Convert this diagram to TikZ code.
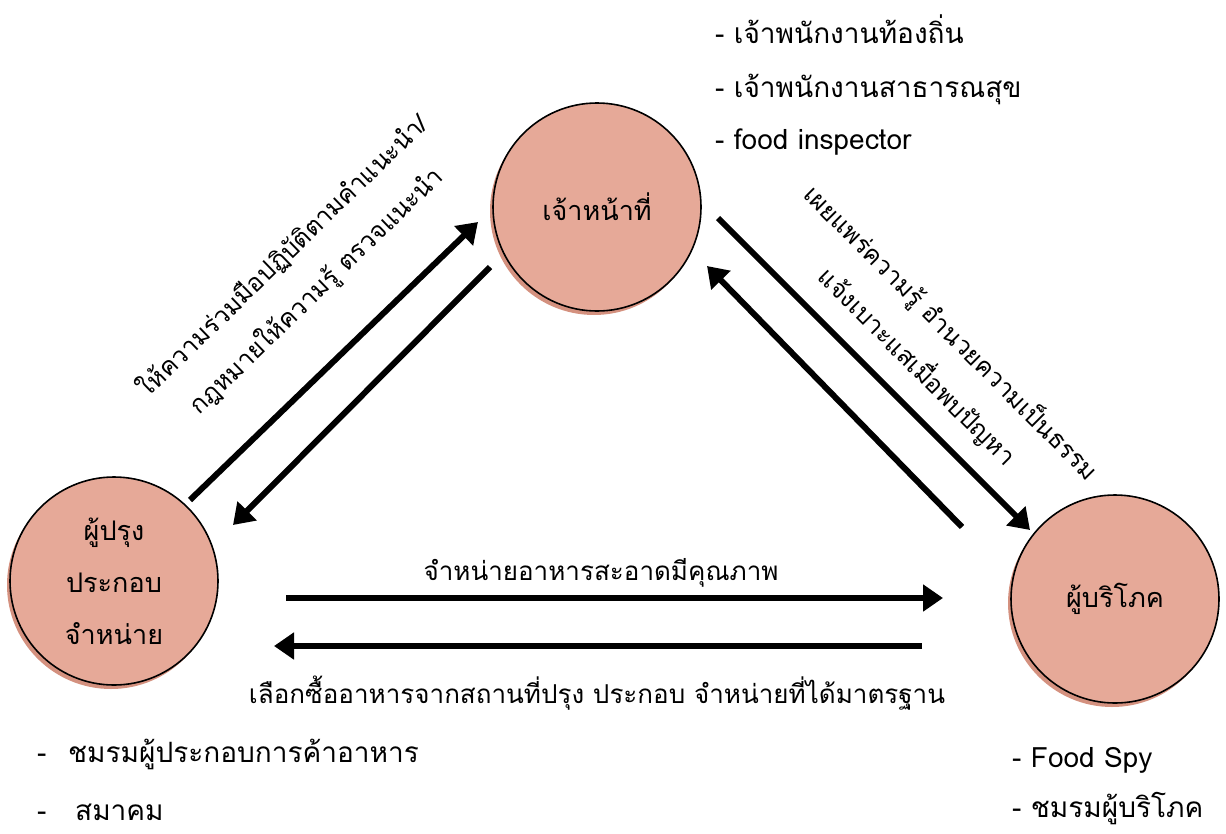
\documentclass[tikz,border=0pt]{standalone}
\usepackage{fontspec}
\setmainfont{Loma}[Script=Thai]
\usetikzlibrary{arrows.meta,shadows}
\definecolor{roleFill}{HTML}{E6A998}
\definecolor{roleShade}{HTML}{D4917F}
\tikzset{
  role/.style={circle, draw=black, line width=1.6pt, fill=roleFill, minimum size=208pt,
    inner sep=0pt, align=center, font=\fontsize{27}{52}\selectfont,
    drop shadow={shadow xshift=-3pt, shadow yshift=-4pt, fill=roleShade, opacity=1}},
  flow/.style={line width=6pt, -{Triangle[length=20pt,width=26pt]}},
  note/.style={anchor=base west, inner sep=0pt, font=\fontsize{28}{30}\selectfont},
  caption/.style={anchor=base, inner sep=0pt, font=\fontsize{26}{30}\selectfont},
  remark/.style={inner sep=0pt, align=center, font=\fontsize{25}{48}\selectfont},
}
\begin{document}
\begin{tikzpicture}[x=1pt, y=-1pt]
  \useasboundingbox (0,0) rectangle (1226,833);

  % the three roles
  \node[role] (officer) at (597,207) {เจ้าหน้าที่};
  \node[role] (vendor) at (114,581) {ผู้ปรุง\\ประกอบ\\จำหน่าย};
  \node[role] (consumer) at (1115,599) {ผู้บริโภค};

  % arrow ends
  \coordinate (v2o-s) at (190,500);  \coordinate (v2o-e) at (478,222);
  \coordinate (o2v-s) at (490,267);  \coordinate (o2v-e) at (233,525);
  \coordinate (o2c-s) at (718,218);  \coordinate (o2c-e) at (1030,530);
  \coordinate (c2o-s) at (962,527);  \coordinate (c2o-e) at (707,266);
  \coordinate (v2c-s) at (286,598);  \coordinate (v2c-e) at (943,598);
  \coordinate (c2v-s) at (922,646);  \coordinate (c2v-e) at (274,646);

  \draw[flow] (v2o-s) -- (v2o-e);
  \draw[flow] (o2v-s) -- (o2v-e);
  \draw[flow] (o2c-s) -- (o2c-e);
  \draw[flow] (c2o-s) -- (c2o-e);
  \draw[flow] (v2c-s) -- (v2c-e);
  \draw[flow] (c2v-s) -- (c2v-e);

  % texts along the arrows
  \node[remark, rotate=44] (duty) at (300,274)
    {ให้ความร่วมมือปฏิบัติตามคำแนะนำ/\\กฎหมายให้ความรู้ ตรวจแนะนำ};
  \node[remark, rotate=-45] (inform) at (934,350)
    {เผยแพร่ความรู้ อำนวยความเป็นธรรม\\แจ้งเบาะแสเมื่อพบปัญหา};
  \node[caption] (sell) at (601,580) {จำหน่ายอาหารสะอาดมีคุณภาพ};
  \node[caption] (buy) at (597,703) {เลือกซื้ออาหารจากสถานที่ปรุง ประกอบ จำหน่ายที่ได้มาตรฐาน};

  % member lists
  \node[note] (off1) at (715,43) {- เจ้าพนักงานท้องถิ่น};
  \node[note] (off2) at (715,97) {- เจ้าพนักงานสาธารณสุข};
  \node[note] (off3) at (715,149) {- food inspector};
  \node[note] (ven1) at (37,762) {\makebox[31pt][l]{-}ชมรมผู้ประกอบการค้าอาหาร};
  \node[note] (ven2) at (37,820) {\makebox[38pt][l]{-}สมาคม};
  \node[note] (con1) at (1012,767) {- Food Spy};
  \node[note] (con2) at (1012,817) {- ชมรมผู้บริโภค};
\end{tikzpicture}
\end{document}
